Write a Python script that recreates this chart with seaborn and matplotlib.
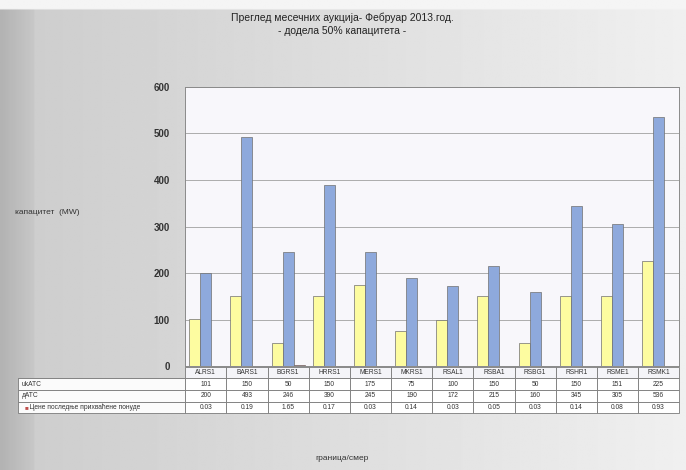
import numpy as np
import pandas as pd
import matplotlib
matplotlib.use("Agg")
import matplotlib.pyplot as plt
import seaborn as sns

# Data

borders = ["ALRS1", "BARS1", "BGRS1", "HRRS1", "MERS1", "MKRS1",
           "RSAL1", "RSBA1", "RSBG1", "RSHR1", "RSME1", "RSMK1"]
atc_offered = [101, 150, 50, 150, 175, 75, 100, 150, 50, 150, 151, 225]
atc_requested = [200, 493, 246, 390, 245, 190, 172, 215, 160, 345, 305, 536]
last_prices = [0.03, 0.19, 1.65, 0.17, 0.03, 0.14, 0.03, 0.05, 0.03, 0.14, 0.08, 0.93]
series_names = ["ukATC", "дATC", "Цене последње прихваћене понуде"]
series_colors = ["#fdfca0", "#8ea9dc", "#c0504d"]

df = pd.DataFrame({
    "border": borders * 3,
    "series": [s for s in series_names for _ in borders],
    "value": atc_offered + atc_requested + last_prices,
})

sns.set_theme(style="white")
plt.rcParams["font.family"] = ["Liberation Sans", "DejaVu Sans"]

fig = plt.figure(figsize=(6.86, 4.70), dpi=100)

# Gray gradient background
bg = fig.add_axes([0, 0, 1, 1], zorder=-10)
ramp = np.linspace(0.80, 0.94, 300)
ramp[:15] = np.linspace(0.70, 0.78, 15)
grad = np.tile(ramp, (200, 1))
grad[:4, :] = 0.96
bg.imshow(grad, cmap="gray", vmin=0, vmax=1, aspect="auto", extent=[0, 1, 0, 1])
bg.axis("off")

ax = fig.add_axes([0.27, 0.221, 0.72, 0.594])
ax.set_facecolor("#f8f7fb")
sns.barplot(data=df, x="border", y="value", hue="series", palette=series_colors,
            saturation=1, width=0.8, edgecolor="#6f6f6f", linewidth=0.5,
            ax=ax, legend=False)

ax.set_ylim(0, 600)
ax.set_yticks(range(0, 601, 100))
ax.tick_params(axis="y", labelsize=7, length=3, color="#555555", pad=8)
for lbl in ax.get_yticklabels():
    lbl.set_fontweight("bold")
    lbl.set_color("#333333")
ax.yaxis.grid(True, color="#a0a0a0", linewidth=0.6)
ax.set_axisbelow(True)
ax.set_xticks(range(len(borders)))
ax.set_xticklabels([])
ax.tick_params(axis="x", length=0)
ax.set_xlabel("")
ax.set_ylabel("")
for side in ["left", "bottom", "right", "top"]:
    ax.spines[side].set_color("#8a8a8a")
    ax.spines[side].set_linewidth(0.7)

# Data table below the plot
rows = [[""] + borders,
        [series_names[0]] + [str(v) for v in atc_offered],
        [series_names[1]] + [str(v) for v in atc_requested],
        ["    " + series_names[2]] + [f"{v:.2f}" for v in last_prices]]
ax_w = 0.72 * 686
label_w = 167
x0 = -label_w / ax_w
tbl = ax.table(cellText=rows, cellLoc="center",
               colWidths=[label_w] + [ax_w / 12] * 12,
               bbox=[x0, -0.168, 1 - x0, 0.165])
tbl.auto_set_font_size(False)
tbl.set_fontsize(4.8)
for (r, c), cell in tbl.get_celld().items():
    cell.set_edgecolor("#7a7a7a")
    cell.set_linewidth(0.6)
    cell.set_facecolor("#ffffff" if r > 0 else "#f4f4f8")
    cell.get_text().set_color("#333333")
    if c == 0:
        cell.get_text().set_horizontalalignment("left")
        cell._loc = "left"
        cell.PAD = 0.02
        cell.set_facecolor("#fbfbfb")
        if r == 0:
            cell.visible_edges = "B"
ax.text(x0 + 0.012, -0.147, "■", color="#c0504d", fontsize=4.5,
        transform=ax.transAxes, ha="left", va="center")

fig.text(342 / 686, 1 - 18 / 470, "Преглед месечних аукција- Фебруар 2013.год.",
         ha="center", va="center", fontsize=7.5, color="#222222")
fig.text(342 / 686, 1 - 31 / 470, "- додела 50% капацитета -",
         ha="center", va="center", fontsize=7.5, color="#222222")
fig.text(15 / 686, 1 - 212 / 470, "капацитет  (MW)", ha="left", va="center",
         fontsize=6, color="#333333")
fig.text(342 / 686, 1 - 458 / 470, "граница/смер", ha="center", va="center",
         fontsize=6, color="#333333")

fig.savefig("out.png", dpi=100)
